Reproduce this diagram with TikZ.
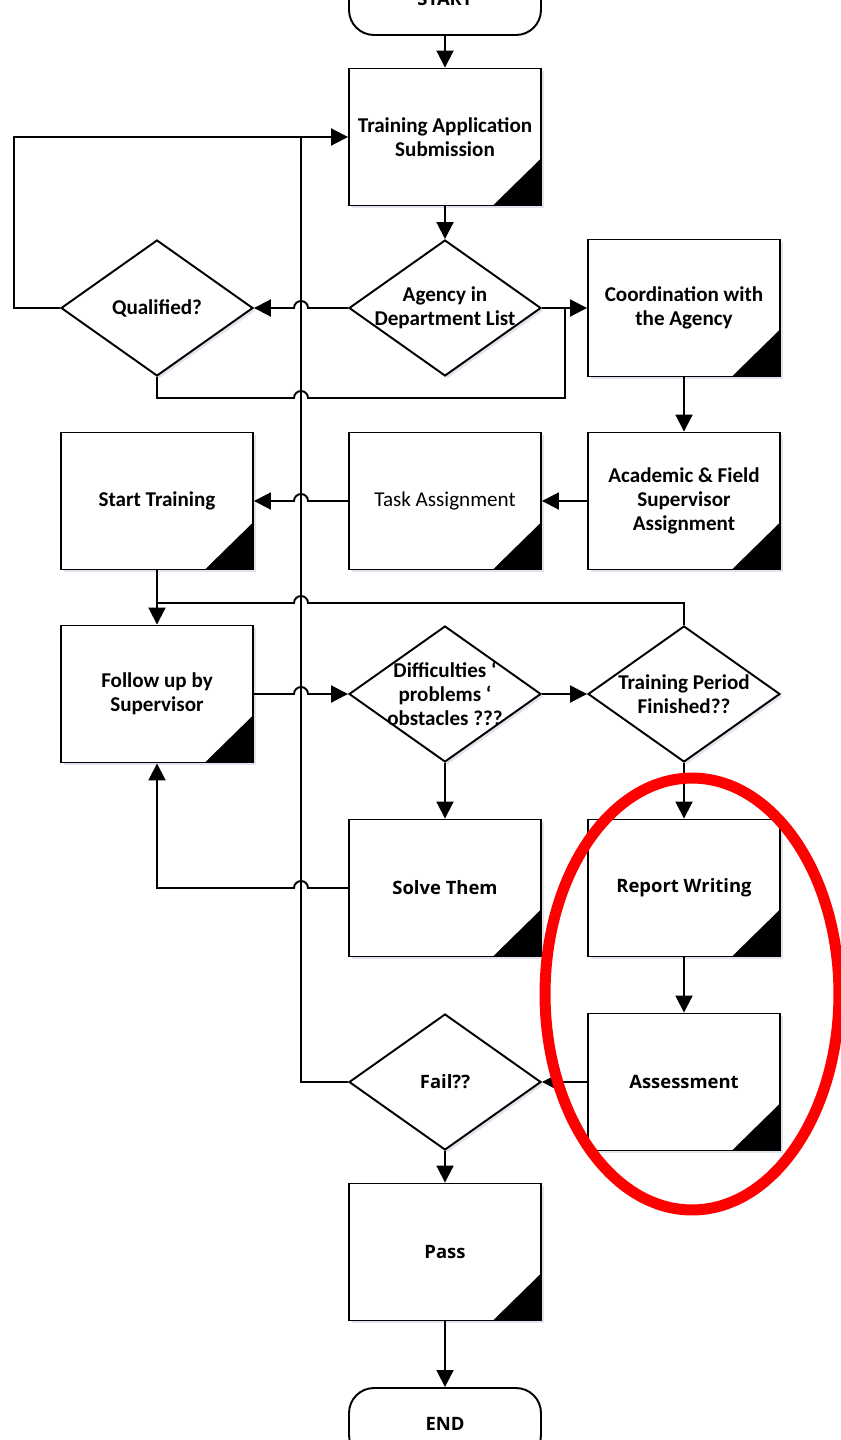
\documentclass[tikz,border=0pt]{standalone}
\usepackage{fontspec}
\setmainfont{Carlito}
\newfontfamily\uifont{Open Sans}
\usetikzlibrary{shapes.geometric,arrows.meta,shadows}

\begin{document}
\begin{tikzpicture}[
    x=0.02cm, y=-0.02cm,
    font=\fontsize{12}{13.6}\selectfont\bfseries,
    process/.style={rectangle, draw=black, line width=1.1pt, fill=white, minimum width=3.84cm, minimum height=2.74cm, inner sep=0pt, align=center,
        drop shadow={shadow xshift=1.5pt, shadow yshift=-1.5pt, fill=blue!25!gray!35},
        path picture={\fill[black] (path picture bounding box.south east) -- ++(-0.96cm,0) -- ++(0.96cm,0.94cm) -- cycle;}},
    decision/.style={diamond, draw=black, line width=1.1pt, fill=white, minimum width=3.84cm, minimum height=2.72cm, inner sep=0pt,
        drop shadow={shadow xshift=1.5pt, shadow yshift=-1.5pt, fill=blue!25!gray!35}},
    terminal/.style={rectangle, rounded corners=0.5cm, draw=black, line width=1.1pt, fill=white, minimum width=3.84cm, minimum height=1.44cm},
    dtext/.style={align=center, inner sep=0pt},
    uitext/.style={font=\uifont\bfseries\fontsize{10.5}{13}\selectfont},
    arrow/.style={-{Triangle[length=0.34cm, width=0.34cm]}, line width=1.1pt},
    link/.style={line width=1.1pt}
]
\useasboundingbox (0,0) rectangle (840,1440);

% Top: start and application
\node[terminal, uitext] (start) at (445,-1) {START};
\node[process] (tas) at (445,137) {Training Application\\Submission};

% Row 2
\node[decision, label={[dtext]center:Qualified?}] (qual) at (157,308) {};
\node[decision, label={[dtext]center:Agency in\\Department List}] (agency) at (445,308) {};
\node[process] (coord) at (684,308) {Coordination with\\the Agency};

% Row 3
\node[process] (starttr) at (157,501) {Start Training};
\node[process, font=\fontsize{12}{13.6}\selectfont\mdseries] (task) at (445,501) {Task Assignment};
\node[process] (acad) at (684,501) {Academic \& Field\\Supervisor\\Assignment};

% Row 4
\node[process] (follow) at (157,694) {Follow up by\\Supervisor};
\node[decision, label={[dtext]center:Difficulties ‘\\problems ‘\\obstacles ???}] (diff) at (445,694) {};
\node[decision, label={[dtext]center:Training Period\\Finished??}] (period) at (684,694) {};

% Rows 5-7
\node[process, uitext] (solve) at (445,888) {Solve Them};
\node[process, uitext] (report) at (684,888) {Report Writing};
\node[decision, label={[dtext,uitext]center:Fail??}] (fail) at (445,1082) {};
\node[process, uitext] (assess) at (684,1082) {Assessment};
\node[process, uitext] (pass) at (445,1252) {Pass};
\node[terminal, uitext] (end) at (445,1424) {END};

% Junctions
\coordinate (jtas) at (301,137);
\coordinate (jcoord) at (565,308);
\coordinate (jfollow) at (157,603);

% Connect paths
\draw[arrow] (start) -- (tas);
\draw[arrow] (tas) -- (agency);
\draw[arrow] (agency.west) -- (308,308) arc[start angle=0, end angle=180, radius=0.14cm] -- (qual.east);
\draw[arrow] (agency.east) -- (coord.west);
\draw[link] (qual.south) -- (157,398) -- (294,398) arc[start angle=180, end angle=0, radius=0.14cm] -- (565,398) -- (jcoord);
\draw[arrow] (qual.west) -- (14,308) |- (tas.west);
\draw[arrow] (coord) -- (acad);
\draw[arrow] (acad) -- (task);
\draw[arrow] (task.west) -- (308,501) arc[start angle=0, end angle=180, radius=0.14cm] -- (starttr.east);
\draw[arrow] (starttr) -- (follow);
\draw[link] (period.north) -- (684,603) -- (308,603) arc[start angle=0, end angle=180, radius=0.14cm] -- (jfollow);
\draw[arrow] (follow.east) -- (294,694) arc[start angle=180, end angle=0, radius=0.14cm] -- (diff.west);
\draw[arrow] (diff) -- (period);
\draw[arrow] (diff) -- (solve);
\draw[arrow] (solve.west) -- (308,888) arc[start angle=0, end angle=180, radius=0.14cm] -- (157,888) -- (follow.south);
\draw[arrow] (period) -- (report);
\draw[arrow] (report) -- (assess);
\draw[arrow] (assess) -- (fail);
\draw[link] (fail.west) -| (jtas);
\draw[arrow] (fail) -- (pass);
\draw[arrow] (pass) -- (end);

% Highlight
\draw[red, line width=0.22cm] (692,994) ellipse [x radius=2.94cm, y radius=4.32cm];

\end{tikzpicture}
\end{document}
